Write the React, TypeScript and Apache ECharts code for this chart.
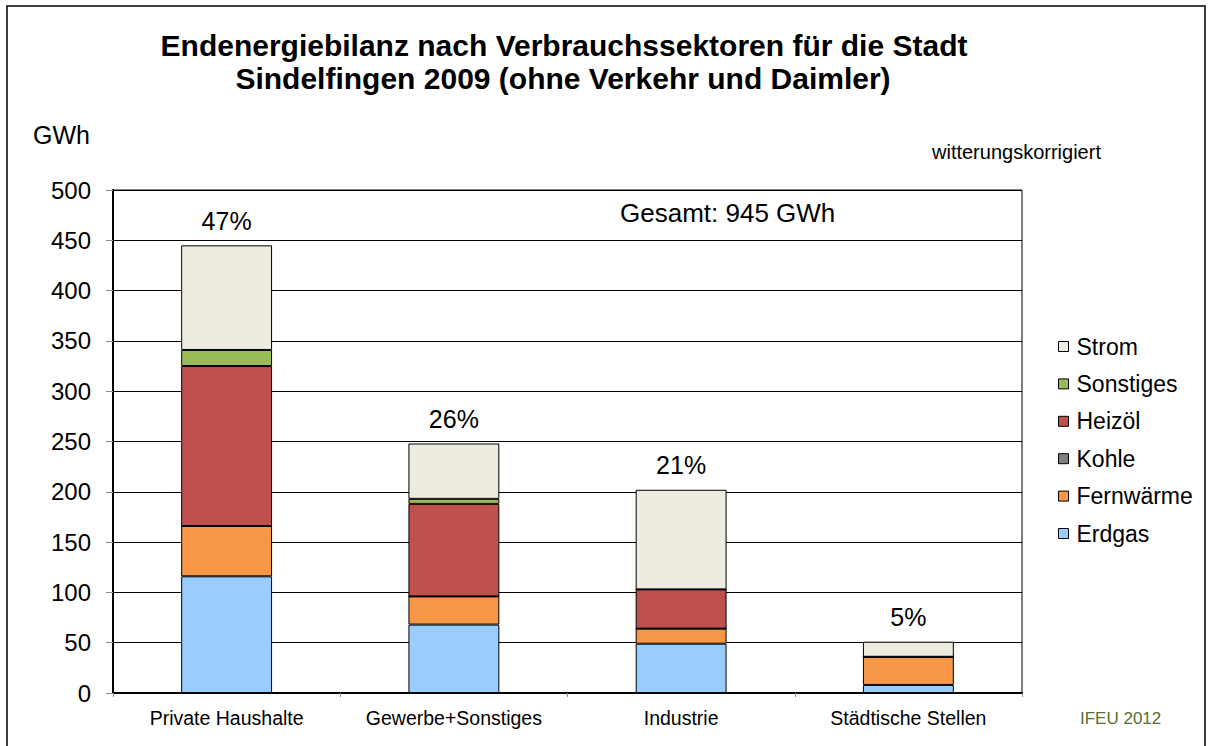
import React, { useEffect, useRef } from "react";
import * as echarts from "echarts";

const categories = ["Private Haushalte", "Gewerbe+Sonstiges", "Industrie", "Städtische Stellen"];
const erdgas = [116, 68, 49, 8];
const fernwaerme = [50, 28, 15, 28];
const kohle = [0, 0, 0, 0];
const heizoel = [159, 92, 39, 0];
const sonstiges = [16, 5, 0, 0];
const strom = [104, 55, 99, 15];
const percentLabels = ["47%", "26%", "21%", "5%"];
const yTicks = [0, 50, 100, 150, 200, 250, 300, 350, 400, 450, 500];

const FONT = "Liberation Sans, Arial, sans-serif";

export default function App() {
  const ref = useRef<HTMLDivElement>(null);
  useEffect(() => {
    if (!ref.current) return;
    const chart = echarts.init(ref.current, undefined, { renderer: "svg" });
    const mk = (name: string, data: number[], color: string, extra: any = {}) => ({
      name,
      type: "bar",
      stack: "total",
      data,
      barWidth: "40%",
      itemStyle: { color, borderColor: "#000", borderWidth: 1 },
      ...extra,
    });
    chart.setOption({
      animation: false,
      backgroundColor: "#fff",
      textStyle: { fontFamily: FONT },
      grid: { left: 113, right: 186, top: 190, bottom: 53, show: true, borderColor: "#000", borderWidth: 1 },
      xAxis: {
        type: "category",
        data: categories,
        axisLine: { lineStyle: { color: "#000", width: 2 } },
        axisTick: { show: true, length: 4, interval: 0, lineStyle: { color: "#888" } },
        axisLabel: { color: "#000", fontSize: 19.5, margin: 15, interval: 0, hideOverlap: false, fontFamily: FONT },
      },
      yAxis: {
        type: "value",
        min: yTicks[0],
        max: yTicks[yTicks.length - 1],
        interval: 50,
        axisLine: { show: true, lineStyle: { color: "#000", width: 2 } },
        axisTick: { show: true, length: 7, lineStyle: { color: "#888" } },
        axisLabel: { color: "#000", fontSize: 24, margin: 22, fontFamily: FONT },
        splitLine: { lineStyle: { color: "#000", width: 1 } },
      },
      legend: {
        orient: "vertical",
        left: 1058,
        top: 335,
        padding: 0,
        itemWidth: 10,
        itemHeight: 10,
        itemGap: 14.4,
        icon: "rect",
        data: ["Strom", "Sonstiges", "Heizöl", "Kohle", "Fernwärme", "Erdgas"],
        itemStyle: { borderColor: "#000", borderWidth: 1 },
        textStyle: { color: "#000", fontSize: 23, fontFamily: FONT, padding: [0, 0, 0, 3] },
      },
      series: [
        mk("Erdgas", erdgas, "#99CCFF"),
        mk("Fernwärme", fernwaerme, "#F79646"),
        mk("Kohle", kohle, "#808080"),
        mk("Heizöl", heizoel, "#C0504D"),
        mk("Sonstiges", sonstiges, "#9BBB59"),
        mk("Strom", strom, "#EEECE1", {
          label: {
            show: true,
            position: "top",
            distance: 12,
            color: "#000",
            fontSize: 25,
            fontFamily: FONT,
            formatter: (p: any) => percentLabels[p.dataIndex],
          },
        }),
      ],
      graphic: [
        {
          type: "rect",
          shape: { x: 7, y: 6, width: 1198, height: 760 },
          style: { fill: "none", stroke: "#000", lineWidth: 1.5 },
          silent: true,
        },
        {
          type: "text",
          x: 564,
          y: 45,
          style: {
            text: "Endenergiebilanz nach Verbrauchssektoren für die Stadt",
            fontSize: 30,
            fontWeight: "bold",
            fontFamily: FONT,
            fill: "#000",
            align: "center",
            verticalAlign: "middle",
          },
        },
        {
          type: "text",
          x: 563,
          y: 78,
          style: {
            text: "Sindelfingen 2009 (ohne Verkehr und Daimler)",
            fontSize: 30,
            fontWeight: "bold",
            fontFamily: FONT,
            fill: "#000",
            align: "center",
            verticalAlign: "middle",
          },
        },
        {
          type: "text",
          x: 33,
          y: 135,
          style: { text: "GWh", fontSize: 25, fontFamily: FONT, fill: "#000", verticalAlign: "middle" },
        },
        {
          type: "text",
          x: 932,
          y: 152,
          style: { text: "witterungskorrigiert", fontSize: 20, fontFamily: FONT, fill: "#000", verticalAlign: "middle" },
        },
        {
          type: "text",
          x: 620,
          y: 213,
          style: { text: "Gesamt: 945 GWh", fontSize: 26, fontFamily: FONT, fill: "#000", verticalAlign: "middle" },
        },
        {
          type: "text",
          x: 1080,
          y: 718,
          style: { text: "IFEU 2012", fontSize: 17, fontFamily: FONT, fill: "#5A6E34", verticalAlign: "middle" },
        },
      ],
    });
    return () => chart.dispose();
  }, []);
  return (
    <div
      ref={ref}
      style={{ position: "fixed", left: 0, top: 0, width: 1208, height: 746, background: "#fff" }}
    />
  );
}
